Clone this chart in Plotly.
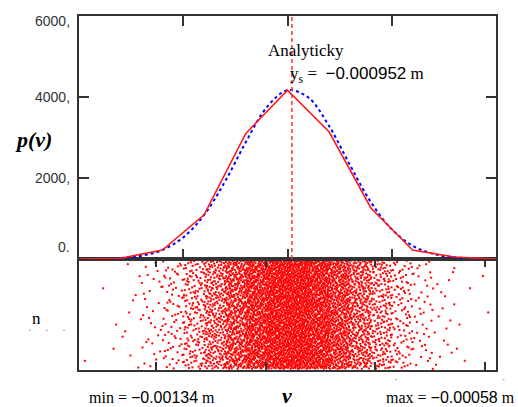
import plotly.graph_objects as go

# ---- data ----
y_min = -0.00134
y_max = -0.00058
ys = -0.000952

hist_x = [-0.00134, -0.001264, -0.001188, -0.001112, -0.001036, -0.00096,
          -0.000884, -0.000808, -0.000732, -0.000656, -0.00058]
hist_p = [0, 20, 220, 1090, 3100, 4170, 3135, 1260, 220, 50, 0]

anal_x = [-0.00134, -0.001302, -0.001264, -0.001226, -0.001188, -0.00115, -0.001112,
          -0.001074, -0.001036, -0.000998, -0.00096, -0.000922, -0.000884, -0.000846,
          -0.000808, -0.00077, -0.000732, -0.000694, -0.000656, -0.000618, -0.00058]
anal_p = [2, 7, 25, 81, 223, 532, 1088, 1910, 2884, 3741, 4166, 3987, 3278, 2315,
          1404, 733, 328, 126, 42, 12, 3]

# sample counts per column of the lower scatter panel (20 equal columns min..max)
scatter_counts = [1, 3, 10, 29, 72, 154, 285, 455, 630, 751, 775, 690, 531, 353,
                  203, 101, 43, 16, 5, 2]

top_ticks = [-0.00134, -0.00115, -0.00096, -0.00077, -0.00058]
bottom_ticks = [-0.0012, -0.001, -0.0008, -0.0006]
p_tickvals = [0, 2000, 4000, 6000]
p_ticklabels = ["0.", "2000,", "4000,", "6000,"]
p_labelpos = [300, 2000, 4000, 5880]


def radical_inverse(i, base):
    f, r = 1.0, 0.0
    while i > 0:
        f /= base
        r += f * (i % base)
        i //= base
    return r


# ---- spread each column's samples evenly (Halton sequence) ----
n_total = sum(scatter_counts)
w = (y_max - y_min) / len(scatter_counts)
sx, sy = [], []
k = 17
for i, c in enumerate(scatter_counts):
    left = y_min + i * w
    for _ in range(c):
        k += 1
        sx.append(left + w * radical_inverse(k, 2))
        sy.append(n_total * (0.01 + 0.98 * radical_inverse(k, 3)))

fig = go.Figure()
fig.add_trace(go.Scatter(x=sx, y=sy, mode="markers", xaxis="x", yaxis="y",
                         marker=dict(symbol="square", size=2, color="#ff0000", line=dict(width=0)),
                         hoverinfo="skip"))
fig.add_trace(go.Scatter(x=anal_x, y=anal_p, mode="lines", xaxis="x2", yaxis="y2",
                         line=dict(color="#0000ff", width=2, dash="3px,3px", shape="spline")))
fig.add_trace(go.Scatter(x=hist_x, y=hist_p, mode="lines", xaxis="x2", yaxis="y2",
                         line=dict(color="#ff1a1a", width=1.6)))
fig.add_trace(go.Scatter(x=[ys, ys], y=[0, 6000], mode="lines", xaxis="x2", yaxis="y2",
                         line=dict(color="#ff3333", width=1.5, dash="4px,3px")))

W, H = 518, 407
xdom = [79 / W, 496 / W]
axis_common = dict(showline=True, linecolor="#333333", linewidth=1.5, showgrid=False,
                   zeroline=False, showticklabels=False)

fig.update_layout(
    width=W, height=H, margin=dict(l=0, r=0, t=0, b=0),
    paper_bgcolor="white", plot_bgcolor="white", showlegend=False,
    xaxis=dict(domain=xdom, range=[y_min, y_max], anchor="y", tickvals=bottom_ticks,
               ticks="inside", ticklen=8, tickwidth=1.5, tickcolor="#333333", mirror="ticks",
               **axis_common),
    yaxis=dict(domain=[(H - 370) / H, (H - 259) / H], range=[0, n_total], anchor="x",
               ticks="", mirror=True, **axis_common),
    xaxis2=dict(domain=xdom, range=[y_min, y_max], anchor="y2", tickvals=top_ticks,
                ticks="inside", ticklen=10, tickwidth=1.5, tickcolor="#333333", mirror="ticks",
                **axis_common),
    yaxis2=dict(domain=[(H - 259) / H, (H - 16) / H], range=[0, 6000], anchor="x2",
                tickvals=p_tickvals, ticks="inside", ticklen=10, tickwidth=1.5,
                tickcolor="#333333", mirror="ticks", **axis_common),
)

# y tick labels of the upper panel (Mathcad style), placed on the y2 scale
for pos, lab in zip(p_labelpos, p_ticklabels):
    fig.add_annotation(text=lab, x=72 / W, y=pos, xref="paper", yref="y2",
                       xanchor="right", yanchor="middle", showarrow=False,
                       font=dict(family="Liberation Sans, Arial", size=14, color="#333333"))

serif = "Liberation Serif, Times New Roman, serif"
NUM = "<span style='font-family:Liberation Sans, Arial'>{}</span>"

def ann(text, x, y, size=16, xanchor="left", color="black"):
    fig.add_annotation(text=text, x=x / W, y=1 - y / H, xref="paper", yref="paper",
                       xanchor=xanchor, yanchor="middle", showarrow=False,
                       font=dict(family=serif, size=size, color=color))

ann("Analyticky", 266, 50, 17)
ann("y<sub>s</sub> =  " + NUM.format(f"\u2212{abs(ys):.6f}") + " m", 288, 75, 17)
ann("<b><i>p(v)</i></b>", 33, 140, 22, "center")
ann("n", 36, 318, 17, "center")
ann("min = " + NUM.format(f"\u2212{abs(y_min):.5f}") + " m", 87, 397, 16)
ann("<b><i>v</i></b>", 287, 395, 22, "center")
ann("max = " + NUM.format(f"\u2212{abs(y_max):.5f}") + " m", 517, 397, 16, "right")
ann("\u00b7", 30, 330, 12, "center", "#ff6666")
ann("\u00b7", 47, 330, 12, "center", "#ff6666")
ann("\u00b7", 64, 330, 12, "center", "#ff6666")
ann("\u00b7", 395, 379, 10, "center", "#666666")
ann("\u00b7", 503, 379, 10, "center", "#666666")

fig.write_html("out.html", config={"displayModeBar": False},
               post_script="document.body.style.margin='0';document.body.style.overflow='hidden';")
